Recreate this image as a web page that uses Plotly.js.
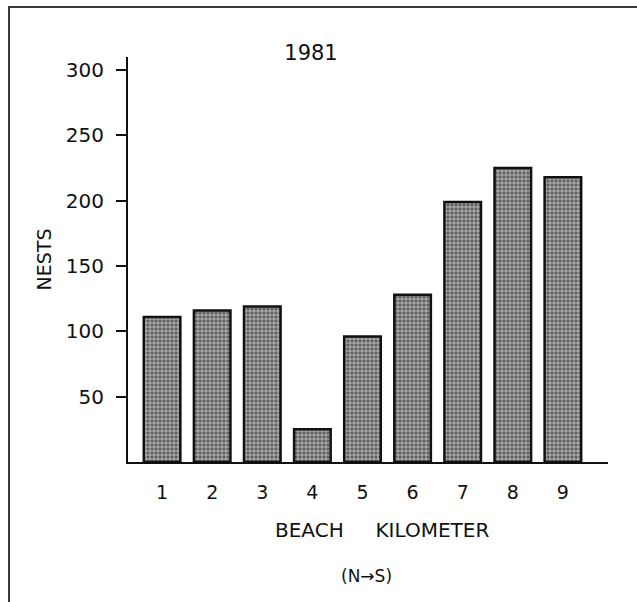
<!DOCTYPE html>
<html>
<head>
<meta charset="utf-8">
<script src="https://cdn.plot.ly/plotly-3.0.1.min.js"></script>
<style>
  html, body { margin: 0; padding: 0; background: #fff; }
  #wrap { position: relative; width: 637px; height: 602px; }
  #frame { position: absolute; left: 8px; top: 6px; width: 640px; height: 610px;
           border-top: 2px solid #3a3a3a; border-left: 2px solid #3a3a3a; pointer-events: none; }
  #chart { position: absolute; left: 0; top: 0; width: 637px; height: 602px; }
</style>
</head>
<body>
<div id="wrap">
  <div id="chart"></div>
  <div id="frame"></div>
</div>
<script>
const kilometers = [1, 2, 3, 4, 5, 6, 7, 8, 9];
const nests = [111, 116, 119, 25, 96, 128, 199, 225, 218];
const yTicks = [50, 100, 150, 200, 250, 300];
const chartTitle = '1981';
const xTitle = 'BEACH&nbsp;&nbsp;&nbsp;&nbsp;&nbsp;KILOMETER';
const yTitle = 'NESTS';
const directionNote = '(N\u2192S)';

const fontFam = '"DejaVu Sans", Lato, sans-serif';

// plot area in pixels (for placing free text)
const L = 128, R = 29, T = 57, B = 140, W = 637, H = 602;
const plotW = W - L - R, plotH = H - T - B;
const px2x = px => (px - L) / plotW;
const py2y = py => (H - B - py) / plotH;

const trace = {
  type: 'bar',
  x: kilometers,
  y: nests,
  width: 0.73,
  marker: {
    color: '#7c7c7c',
    line: { color: '#111', width: 2.5 },
    pattern: { shape: '+', bgcolor: '#5e5e5e', fgcolor: '#cfcfcf', size: 4, solidity: 0.35 }
  },
  hoverinfo: 'x+y'
};

const layout = {
  width: W,
  height: H,
  paper_bgcolor: 'rgba(0,0,0,0)',
  plot_bgcolor: 'rgba(0,0,0,0)',
  margin: { l: L, r: R, t: T, b: B },
  showlegend: false,
  font: { family: fontFam, color: '#111' },
  title: {
    text: chartTitle,
    font: { size: 21, family: fontFam, color: '#111' },
    xref: 'paper', x: px2x(311), xanchor: 'center',
    yref: 'container', y: 1 - 53 / H, yanchor: 'middle'
  },
  xaxis: {
    range: [0.32, 9.9],
    tickvals: kilometers,
    ticktext: kilometers.map(String),
    tickfont: { size: 19 },
    ticks: 'outside', ticklen: 12, tickcolor: 'rgba(0,0,0,0)',
    showline: true, linecolor: '#111', linewidth: 2,
    showgrid: false, zeroline: false
  },
  yaxis: {
    range: [0, 310],
    tickvals: yTicks,
    tickfont: { size: 20 },
    ticks: 'outside', ticklen: 10, tickwidth: 2, tickcolor: '#111',
    ticklabelstandoff: 8,
    showline: true, linecolor: '#111', linewidth: 2,
    showgrid: false, zeroline: false,
    title: { text: yTitle, font: { size: 19 }, standoff: 9 }
  },
  annotations: [
    {
      text: xTitle,
      xref: 'paper', x: px2x(382), xanchor: 'center',
      yref: 'paper', y: py2y(530), yanchor: 'middle',
      showarrow: false,
      font: { size: 20, family: fontFam, color: '#111' }
    },
    {
      text: directionNote,
      xref: 'paper', x: px2x(366), xanchor: 'center',
      yref: 'paper', y: py2y(576), yanchor: 'middle',
      showarrow: false,
      font: { size: 17, family: fontFam, color: '#111' }
    }
  ]
};

Plotly.newPlot('chart', [trace], layout, { displayModeBar: false, staticPlot: true });
</script>
</body>
</html>
